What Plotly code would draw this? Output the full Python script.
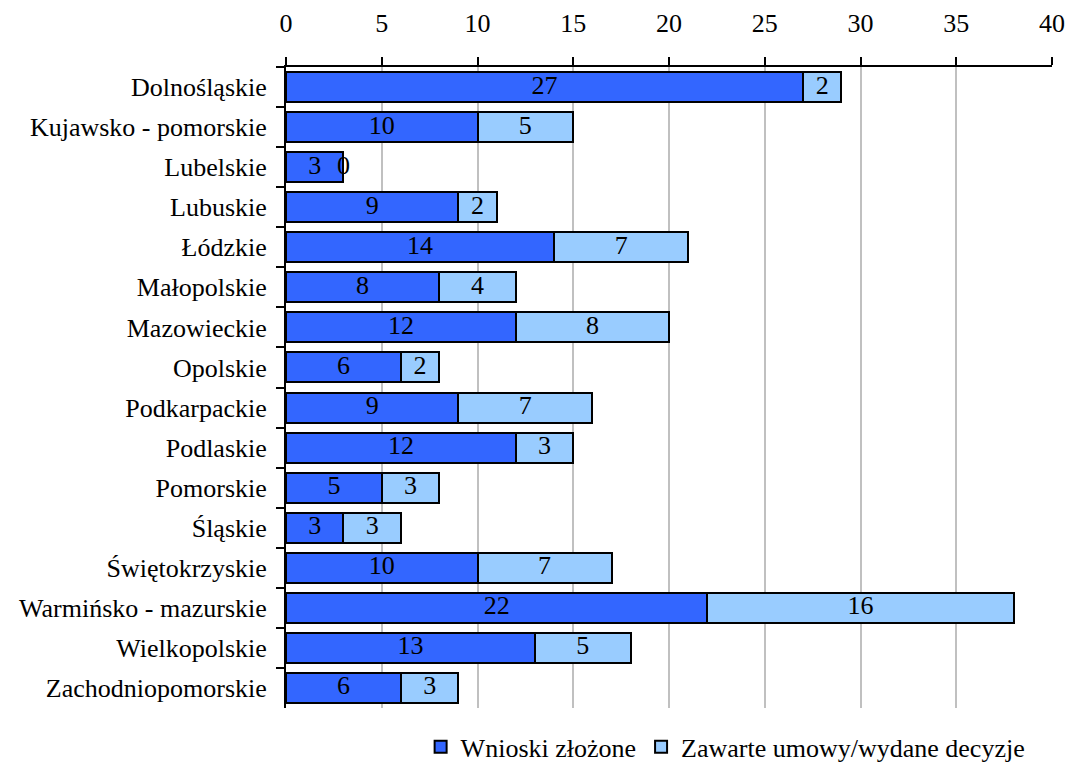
import plotly.graph_objects as go

regions = ["Dolnośląskie", "Kujawsko - pomorskie", "Lubelskie", "Lubuskie", "Łódzkie",
           "Małopolskie", "Mazowieckie", "Opolskie", "Podkarpackie", "Podlaskie",
           "Pomorskie", "Śląskie", "Świętokrzyskie", "Warmińsko - mazurskie",
           "Wielkopolskie", "Zachodniopomorskie"]
wnioski = [27, 10, 3, 9, 14, 8, 12, 6, 9, 12, 5, 3, 10, 22, 13, 6]
umowy = [2, 5, 0, 2, 7, 4, 8, 2, 7, 3, 3, 3, 7, 16, 5, 3]
x_ticks = [0, 5, 10, 15, 20, 25, 30, 35, 40]

FONT = "Liberation Serif"
FS = 26
fig = go.Figure()
fig.add_trace(go.Bar(y=regions, x=wnioski, orientation="h", name="Wnioski złożone",
                     marker=dict(color="#3366FF", line=dict(color="black", width=2)),
                     hoverinfo="x+y"))
fig.add_trace(go.Bar(y=regions, x=umowy, orientation="h", name="Zawarte umowy/wydane decyzje",
                     marker=dict(color="#99CCFF", line=dict(color="black", width=2)),
                     hoverinfo="x+y"))
# labels centered on segments
fig.add_trace(go.Scatter(y=regions, x=[w / 2 for w in wnioski], mode="text",
                         text=[str(w) for w in wnioski], showlegend=False,
                         textfont=dict(family=FONT, size=FS, color="black"), hoverinfo="skip"))
fig.add_trace(go.Scatter(y=regions, x=[w + u / 2 for w, u in zip(wnioski, umowy)], mode="text",
                         text=[str(u) for u in umowy], showlegend=False,
                         textfont=dict(family=FONT, size=FS, color="black"), hoverinfo="skip"))

fig.update_layout(
    barmode="stack", bargap=0.25,
    width=1068, height=763,
    margin=dict(l=286, r=16, t=67, b=55, autoexpand=False),
    plot_bgcolor="white", paper_bgcolor="white",
    font=dict(family=FONT, size=FS, color="black"),
    legend=dict(orientation="h", x=0.965, xanchor="right", xref="container",
                y=0.052, yanchor="top", yref="container",
                font=dict(family=FONT, size=FS, color="black"), traceorder="normal",
                itemwidth=30, tracegroupgap=0),
    xaxis=dict(side="top", range=[0, 40], tickvals=x_ticks, showgrid=True,
               gridcolor="#C0C0C0", gridwidth=2, showline=True, linecolor="black", linewidth=2,
               ticks="outside", tickcolor="black", ticklen=8, tickwidth=2, automargin=False,
               ticklabelstandoff=15, zeroline=False, fixedrange=True),
    yaxis=dict(range=[len(regions) - 0.5, -0.5], showline=True, linecolor="black", linewidth=2,
               ticks="outside", tickcolor="black", ticklen=8, tickwidth=2, tickson="boundaries",
               automargin=False,
               ticklabelstandoff=12, showgrid=False, fixedrange=True),
)
fig.write_html("out.html", config={"displayModeBar": False},
               post_script="document.body.style.margin='0';")
